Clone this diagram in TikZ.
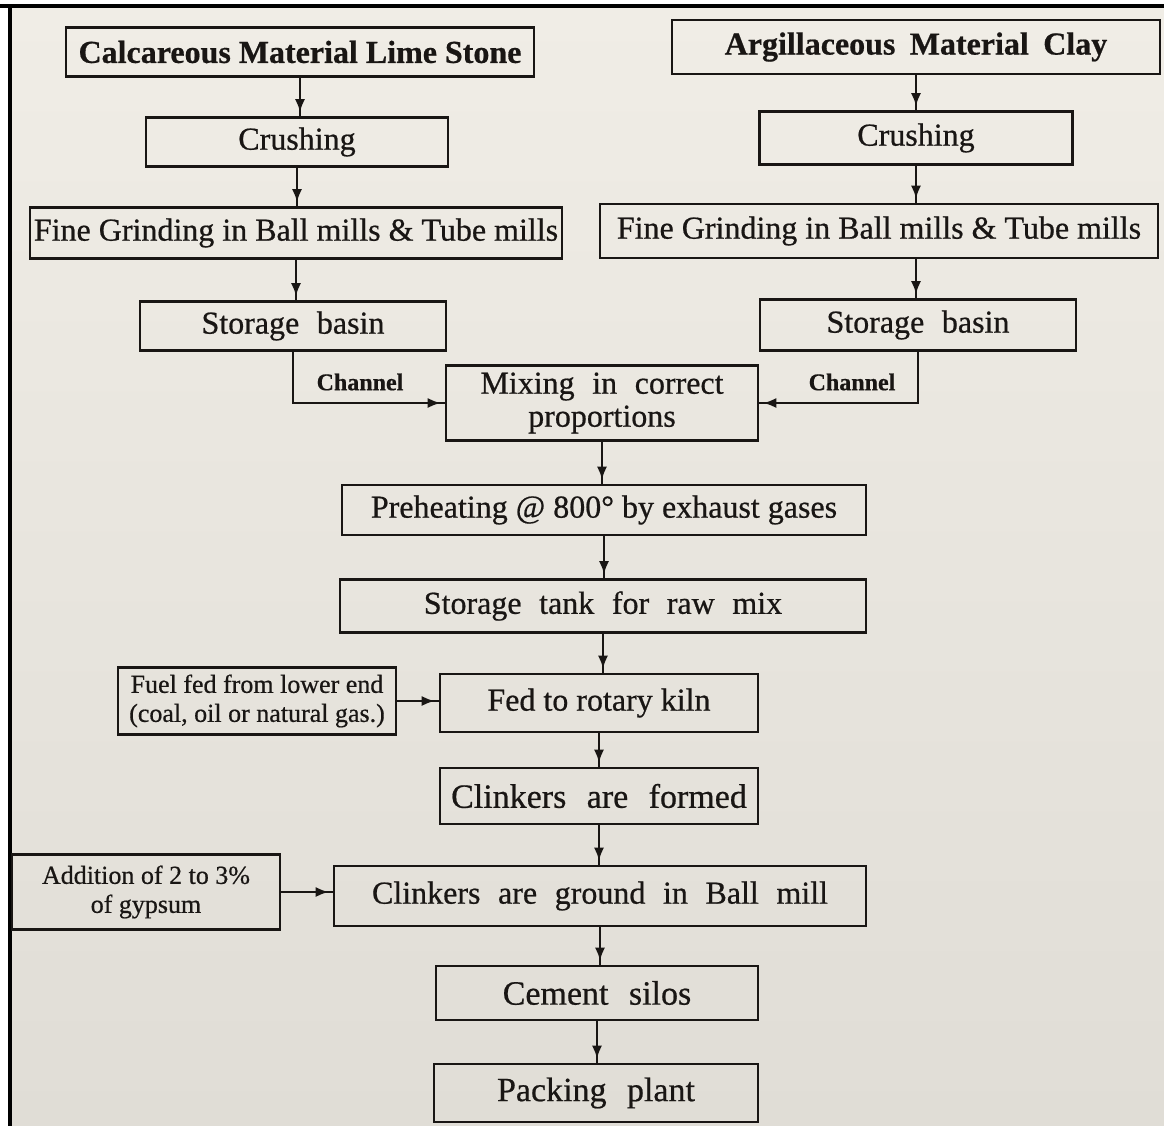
\documentclass[tikz,border=0pt]{standalone}
\usepackage{fontspec}
\setmainfont{Liberation Serif}[FakeBold=0.6]
\usetikzlibrary{arrows.meta,decorations.markings}
\definecolor{paperTop}{RGB}{240,237,230}
\definecolor{paperBot}{RGB}{224,221,214}
\definecolor{ink}{RGB}{25,22,20}
\newcommand{\wsA}{\spaceskip=0.45em plus 0.1em\relax}
\newcommand{\wsB}{\spaceskip=0.55em plus 0.1em\relax}
\newcommand{\wsC}{\spaceskip=0.6em plus 0.1em\relax}
\begin{document}
\begin{tikzpicture}[x=0.5pt,y=-0.5pt,
  box/.style={draw=ink, line width=1.3pt, inner sep=0pt, align=center, text=ink,
    font=\fontsize{16}{16.5}\selectfont},
  bbox/.style={box, font=\fontsize{16}{16.5}\selectfont\bfseries},
  wide/.style={execute at begin node=\wsB},
  wider/.style={font=\fontsize{17}{17.5}\selectfont, execute at begin node=\wsC},
  small/.style={font=\fontsize{13}{14.5}\selectfont},
  lbl/.style={text=ink, inner sep=0pt, font=\fontsize{12}{13}\selectfont\bfseries},
  conn/.style={draw=ink, line width=1.1pt, postaction={decorate},
    decoration={markings, mark=at position -2pt with {\arrow{Latex[length=6.5pt,width=5pt]}}}},
]
\useasboundingbox (0,0) rectangle (1164,1126);
\fill[white] (0,0) rectangle (1164,1126);
\fill[top color=paperTop, bottom color=paperBot] (10,6) rectangle (1164,1126);
\draw[black, line width=1.6pt] (0,6) -- (1164,6);
\draw[black, line width=1.6pt] (10,6) -- (10,1126);

% left column
\node[bbox, minimum width=234pt, minimum height=24.5pt] (calc) at (300,52) {Calcareous Material Lime Stone};
\node[box, minimum width=151pt, minimum height=24.5pt] (crl) at (297,142) {Crushing};
\node[box, minimum width=266pt, minimum height=25.5pt] (fgl) at (296,233) {Fine Grinding in Ball mills \& Tube mills};
\node[box, wide, minimum width=153pt, minimum height=24.5pt] (sbl) at (293,326) {Storage basin};

% right column
\node[bbox, execute at begin node=\wsA, minimum width=244pt, minimum height=27pt] (arg) at (916,47) {Argillaceous Material Clay};
\node[box, minimum width=156.5pt, minimum height=26.5pt] (crr) at (916,138) {Crushing};
\node[box, minimum width=279pt, minimum height=27pt] (fgr) at (879,231) {Fine Grinding in Ball mills \& Tube mills};
\node[box, wide, minimum width=158pt, minimum height=25.5pt] (sbr) at (918,325) {Storage basin};

% main column
\node[box, wide, minimum width=156pt, minimum height=37.5pt] (mix) at (602,403) {Mixing in correct\\proportions};
\node[box, minimum width=262pt, minimum height=25pt] (pre) at (604,510) {Preheating @ 800° by exhaust gases};
\node[box, wide, minimum width=263pt, minimum height=26.5pt] (tank) at (603,606) {Storage tank for raw mix};
\node[box, minimum width=159pt, minimum height=29pt] (kiln) at (599,703) {Fed to rotary kiln};
\node[box, wider, minimum width=159pt, minimum height=28pt] (form) at (599,796) {Clinkers are formed};
\node[box, wide, minimum width=266pt, minimum height=30pt] (ball) at (600,896) {Clinkers are ground in Ball mill};
\node[box, wider, minimum width=161pt, minimum height=27pt] (silo) at (597,993) {Cement silos};
\node[box, wider, minimum width=162pt, minimum height=29pt] (pack) at (596,1093) {Packing plant};

% side inputs
\node[box, small, minimum width=139pt, minimum height=33.5pt] (fuel) at (257,701) {Fuel fed from lower end\\(coal, oil or natural gas.)};
\node[box, small, minimum width=134pt, minimum height=37.5pt] (add) at (146,892) {Addition of 2 to 3\%\\of gypsum};

% channel labels
\node[lbl] (chl) at (360,382) {Channel};
\node[lbl] (chr) at (852,382) {Channel};

% connectors
\draw[conn] (calc.south) -- (calc.south |- crl.north);
\draw[conn] (crl.south) -- (crl.south |- fgl.north);
\draw[conn] (fgl.south) -- (fgl.south |- sbl.north);
\draw[conn] (arg.south) -- (arg.south |- crr.north);
\draw[conn] (crr.south) -- (crr.south |- fgr.north);
\draw[conn] (crr.south |- fgr.south) -- (crr.south |- sbr.north);
\draw[conn] (sbl.south) |- (mix.west);
\draw[conn] (sbr.south) |- (mix.east);
\draw[conn] (mix.south) -- (mix.south |- pre.north);
\draw[conn] (pre.south) -- (pre.south |- tank.north);
\draw[conn] (tank.south) -- (tank.south |- kiln.north);
\draw[conn] (kiln.south) -- (kiln.south |- form.north);
\draw[conn] (form.south) -- (form.south |- ball.north);
\draw[conn] (ball.south) -- (ball.south |- silo.north);
\draw[conn] (silo.south) -- (silo.south |- pack.north);
\draw[conn] (fuel.east) -- (fuel.east -| kiln.west);
\draw[conn] (add.east) -- (add.east -| ball.west);
\end{tikzpicture}
\end{document}
